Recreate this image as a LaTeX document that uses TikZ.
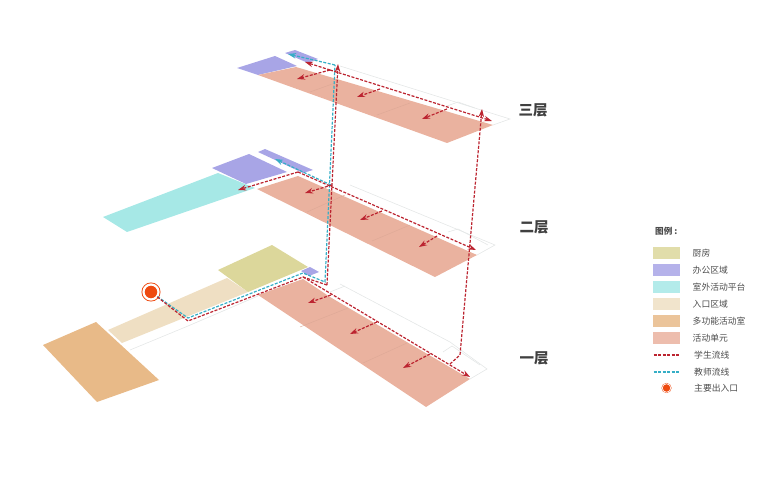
\documentclass[tikz,border=0pt]{standalone}
\usepackage{fontspec}
\newfontfamily\cjk{Noto Sans CJK SC}
\definecolor{ActivitySalmon}{HTML}{EAB29F}
\definecolor{OfficeBlue}{HTML}{A8A5E6}
\definecolor{TerraceCyan}{HTML}{A6E8E6}
\definecolor{KitchenOlive}{HTML}{DCD79B}
\definecolor{EntryTan}{HTML}{EFDFC3}
\definecolor{HallOrange}{HTML}{E8BA88}
\definecolor{DividerRed}{HTML}{DDA896}
\definecolor{OutlineGray}{HTML}{E4E7E7}
\definecolor{StudentRed}{HTML}{BC2430}
\definecolor{TeacherCyan}{HTML}{35AEC6}
\definecolor{EntryRed}{HTML}{EE4A10}
\usetikzlibrary{arrows.meta, positioning}

\begin{document}
\begin{tikzpicture}[
  x=1pt, y=-1pt,
  outline/.style={draw=OutlineGray, line width=0.6pt},
  divider/.style={draw=DividerRed, line width=0.4pt},
  studentflow/.style={draw=StudentRed, line width=1.2pt, dash pattern=on 3pt off 1.5pt},
  teacherflow/.style={draw=TeacherCyan, line width=1.2pt, dash pattern=on 3pt off 1.5pt},
  flowtip/.style={-{Stealth[length=8pt, width=5.5pt]}},
  floorlbl/.style={font=\cjk\fontsize{14.5}{15}\selectfont\bfseries, text=black!75, inner sep=0pt},
  legendlbl/.style={font=\cjk\fontsize{8.8}{9}\selectfont, text=black!70, anchor=west, inner sep=0pt},
  legendbox/.style={minimum width=27pt, minimum height=11.5pt, inner sep=0pt},
  entrydot/.style={circle, draw=EntryRed, double=white, double distance=2.2pt, line width=0.9pt,
                   fill=EntryRed, inner sep=0pt, minimum size=#1},
]
\useasboundingbox (0,0) rectangle (779,497);

% third floor
\draw[outline] (340,66) -- (510,119) -- (493,125);
\draw[outline] (447,106) -- (458,102) -- (475,108);
\fill[OfficeBlue] (237,68) -- (275,56) -- (297,66) -- (258,75) -- cycle;
\fill[OfficeBlue] (285,53) -- (295,50) -- (318,59) -- (308,63) -- cycle;
\fill[ActivitySalmon] (258,75) -- (296,67) -- (493,125) -- (447,143) -- cycle;
\draw[divider] (335,83) -- (310,92);
\draw[divider] (410,103) -- (377,115);

% second floor
\draw[outline] (350,185) -- (495,245) -- (477,255);
\draw[outline] (448,232) -- (458,229) -- (488,245);
\fill[TerraceCyan] (103,217) -- (218,173) -- (255,188) -- (127,232) -- cycle;
\fill[OfficeBlue] (212,168) -- (249,154) -- (287,172) -- (246,184) -- cycle;
\fill[OfficeBlue] (258,152) -- (265,149) -- (313,170) -- (303,173) -- cycle;
\fill[ActivitySalmon] (257,189) -- (298,176) -- (477,255) -- (435,277) -- cycle;
\draw[divider] (345,195) -- (307,212);
\draw[divider] (410,225) -- (372,241);

% first floor
\draw[outline] (130,350) -- (188,326) -- (258,296);
\draw[outline] (340,284) -- (450,342) -- (487,369) -- (470,379);
\draw[outline] (443,352) -- (452,346) -- (480,365);
\draw[outline] (330,292) -- (345,286);
\fill[EntryTan] (108,330) -- (227,278) -- (248,292) -- (122,343) -- cycle;
\fill[KitchenOlive] (218,270) -- (272,245) -- (308,267) -- (248,292) -- cycle;
\fill[OfficeBlue] (301,271) -- (310,267) -- (319,272) -- (309,276) -- cycle;
\fill[ActivitySalmon] (258,295) -- (303,279) -- (330,297) -- (470,379) -- (426,407) -- cycle;
\fill[HallOrange] (43,345) -- (96,322) -- (159,380) -- (97,402) -- cycle;
\draw[divider] (348,308) -- (300,327);
\draw[divider] (407,343) -- (363,363);

% flow corners
\coordinate (sa) at (188,321);
\coordinate (sb) at (303,277);
\coordinate (sc) at (327,285);
\coordinate (sd) at (338,64);
\coordinate (ta) at (188,318);
\coordinate (tb) at (303,273);
\coordinate (tc) at (325,282);
\coordinate (td) at (335,65);
\coordinate (te) at (288,54);
\coordinate (tf) at (331,185);
\coordinate (tg) at (275,159);
\coordinate (one) at (470,377);
\coordinate (two) at (298,172);
\coordinate (twoend) at (476,250);
\coordinate (three) at (330,70);
\coordinate (threeend) at (492,121);
\coordinate (up) at (482,109);
\coordinate (ua) at (460,355);
\coordinate (ub) at (450,364);

\node[entrydot=15pt] (entry) at (151,292) {};
\draw[teacherflow] (entry) -- (ta) -- (tb) -- (tc) -- (td);
\draw[teacherflow, flowtip] (td) -- (te);
\draw[teacherflow, flowtip] (tf) -- (tg);
\draw[studentflow] (entry) -- (sa) -- (sb) -- (sc);
\draw[studentflow, flowtip] (sc) -- (sd);
\draw[studentflow, flowtip] (sb) -- (one);
\draw[studentflow, flowtip] (two) -- (twoend);
\draw[studentflow, flowtip] (three) -- (threeend);
\draw[studentflow, flowtip] (ub) -- (ua) -- (up);
\draw[studentflow, flowtip] (two) -- (238,190);
\draw[studentflow, flowtip] (three) -- (297,79);
\draw[studentflow, flowtip] (three) -- (305,62);
% branches into the rooms
\foreach \xa/\ya/\xb/\yb in {380/89/357/97, 447/109/422/119, 332/185/305/193, 382/211/360/220,
                             437/236/419/247, 331/295/308/303, 377/322/350/334, 430/354/403/368} {
  \draw[studentflow, flowtip] (\xa,\ya) -- (\xb,\yb);
}

\node[floorlbl] (third) at (533,110) {三层};
\node[floorlbl] (second) at (534,227) {二层};
\node[floorlbl] (first) at (534,358) {一层};

% legend
\node[legendlbl, font=\cjk\fontsize{8.6}{9}\selectfont\bfseries] (legendtitle) at (655,231) {图例 :};
\foreach \c/\y/\t in {KitchenOlive/253/厨房, OfficeBlue/270/办公区域, TerraceCyan/287/室外活动平台,
                      EntryTan/304/入口区域, HallOrange/321/多功能活动室, ActivitySalmon/338/活动单元} {
  \node[legendbox, fill=\c, fill opacity=0.85] (box\y) at (666.5,\y) {};
  \node[legendlbl] (lbl\y) at (692.5,\y) {\t};
}
\coordinate (sl) at (653.5,355);
\coordinate (sr) at (680,355);
\coordinate (tl) at (653.5,372);
\coordinate (tr) at (680,372);
\draw[studentflow] (sl) -- (sr);
\draw[teacherflow] (tl) -- (tr);
\node[legendlbl] (lblstudent) at (694,355) {学生流线};
\node[legendlbl] (lblteacher) at (694,372) {教师流线};
\node[entrydot=8.5pt, double distance=0.7pt, line width=0.4pt] (legendentry) at (666.5,388) {};
\node[legendlbl] (lblentry) at (694,388) {主要出入口};
\end{tikzpicture}
\end{document}
